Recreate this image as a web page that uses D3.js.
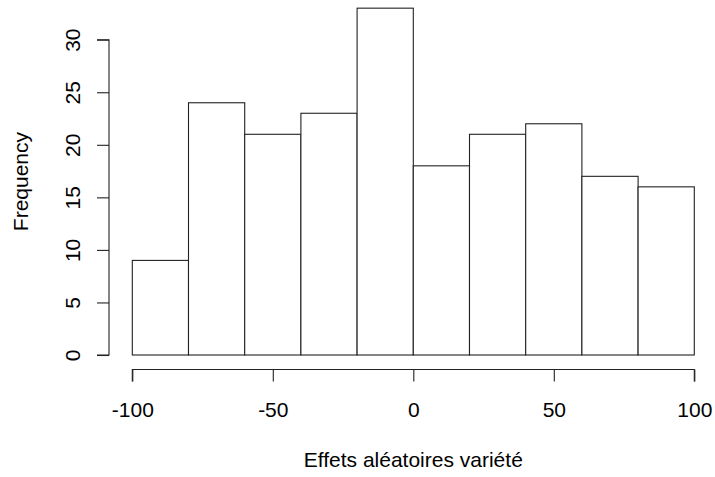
<!DOCTYPE html>
<html><head><meta charset="utf-8">
<script src="https://cdn.jsdelivr.net/npm/d3@7"></script>
<style>body{margin:0;background:#fff}svg{display:block}text{font-family:"Liberation Sans",Arial,Helvetica,sans-serif;fill:#000}</style>
</head><body>
<script>
const binEdges = [-100,-80,-60,-40,-20,0,20,40,60,80,100];
const counts = [9,24,21,23,33,18,21,22,17,16];
const xTicks = [-100,-50,0,50,100];
const yTicks = [0,5,10,15,20,25,30];
const xLabel = "Effets aléatoires variété";
const yLabel = "Frequency";

const W=715,H=477;
const svg=d3.select("body").append("svg").attr("width",W).attr("height",H);
const x=d3.scaleLinear().domain([-100,100]).range([132.3,694.3]);
const y=d3.scaleLinear().domain([0,30]).range([355,39.7]);
const fs=21;
const fmt=d=>String(d);

const bins=counts.map((c,i)=>({x0:binEdges[i],x1:binEdges[i+1],c}));
svg.append("g").selectAll("rect").data(bins).join("rect")
  .attr("x",d=>x(d.x0)).attr("width",d=>x(d.x1)-x(d.x0))
  .attr("y",d=>y(d.c)).attr("height",d=>y(0)-y(d.c))
  .attr("fill","#fff").attr("stroke","#222").attr("stroke-width",1.1);

// x axis
const xa=svg.append("g").attr("transform","translate(0,369.5)")
  .call(d3.axisBottom(x).tickValues(xTicks).tickSize(12).tickPadding(0).tickFormat(fmt));
xa.select(".domain").attr("d",`M${x(-100)},12V0H${x(100)}V12`).attr("stroke","#222").attr("stroke-width",1.1);
xa.selectAll(".tick line").attr("stroke","#222").attr("stroke-width",1.1);
xa.selectAll(".tick text").attr("font-size",fs).attr("y",0).attr("dy",null)
  .attr("transform","translate(0,47)").attr("font-family",'"Liberation Sans",Arial,sans-serif');

// y axis
const ya=svg.append("g").attr("transform","translate(109,0)")
  .call(d3.axisLeft(y).tickValues(yTicks).tickSize(12).tickFormat(fmt));
ya.select(".domain").attr("d",`M-12,${y(0)}H0V${y(30)}H-12`).attr("stroke","#222").attr("stroke-width",1.1);
ya.selectAll(".tick line").attr("stroke","#222").attr("stroke-width",1.1);
ya.selectAll(".tick text").attr("font-size",fs).attr("x",null).attr("dy",null)
  .attr("text-anchor","middle").attr("transform","translate(-29,0) rotate(-90)")
  .attr("font-family",'"Liberation Sans",Arial,sans-serif');

svg.append("text").attr("x",x(0)).attr("y",467).attr("text-anchor","middle")
  .attr("font-size",fs).text(xLabel);
svg.append("text").attr("transform",`translate(27.5,${y(16.5)}) rotate(-90)`)
  .attr("text-anchor","middle").attr("font-size",fs).text(yLabel);
</script>
</body></html>
